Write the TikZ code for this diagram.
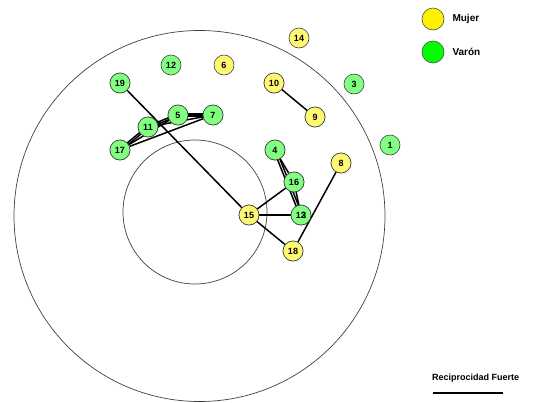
\documentclass[tikz,border=0pt]{standalone}
\usepackage{fontspec}
\setmainfont{Liberation Sans}
\begin{document}
\begin{tikzpicture}[x=1pt,y=-1pt,
  nd/.style={circle,draw=black!75,line width=0.6pt,minimum size=20pt,inner sep=0pt,font=\bfseries\fontsize{9}{9}\selectfont},
  fem/.style={nd,fill=yellow!55},
  mal/.style={nd,fill=green!50},
  lg/.style={circle,draw=black!70,line width=0.6pt,minimum size=22pt,inner sep=0pt},
  tie/.style={line width=1.5pt,black},
  ring/.style={draw=black!75,line width=0.7pt}]
\useasboundingbox (0,0) rectangle (544,402);
\draw[ring] (199.5,216) circle (185.5);
\draw[ring] (195,212) circle (72);
% nodes
\node[mal] (n19) at (120,83) {19};
\node[mal] (n12) at (171,65) {12};
\node[fem] (n6) at (224,65) {6};
\node[fem] (n14) at (299,38) {14};
\node[fem] (n10) at (274,83) {10};
\node[fem] (n9) at (315,117) {9};
\node[mal] (n3) at (354,84) {3};
\node[mal] (n1) at (390,145) {1};
\node[mal] (n5) at (178,115) {5};
\node[mal] (n7) at (213,115) {7};
\node[mal] (n11) at (148,127) {11};
\node[mal] (n17) at (120,150) {17};
\node[mal] (n4) at (275,150) {4};
\node[mal] (n16) at (294,182) {16};
\node[fem] (n8) at (341,163) {8};
\node[fem] (n15) at (249,215) {15};
\node[mal] (n13) at (301,215) {1\rlap{2}3};
\node[fem] (n18) at (293,251) {18};
% edges
\draw[tie] (n19) -- (n15);
\draw[tie] ([yshift=-1pt]n11.center) -- ([yshift=-1pt]n5.center);
\draw[tie] ([yshift=1pt]n11.center) -- ([yshift=1pt]n5.center);
\draw[tie] (n11) -- (n7);
\draw[tie] ([yshift=-1.2pt]n17.center) -- ([yshift=-1.2pt]n11.center);
\draw[tie] ([yshift=1.2pt]n17.center) -- ([yshift=1.2pt]n11.center);
\draw[tie] (n17) -- (n5);
\draw[tie] (n17) -- (n7);
\draw[tie] ([yshift=-1.2pt]n5.center) -- ([yshift=-1.2pt]n7.center);
\draw[tie] ([yshift=1.2pt]n5.center) -- ([yshift=1.2pt]n7.center);
\draw[tie] (n10) -- (n9);
\draw[tie] (n4) -- (n16);
\draw[tie] ([xshift=-1.3pt]n4.center) -- ([xshift=-1.3pt]n13.center);
\draw[tie] ([xshift=1.3pt]n4.center) -- ([xshift=1.3pt]n13.center);
\draw[tie] (n16) -- (n15);
\draw[tie] (n16) -- (n13);
\draw[tie] (n15) -- (n13);
\draw[tie] (n15) -- (n18);
\draw[tie] (n8) -- (n18);
% redraw nodes on top of the ties
\foreach \s/\p/\t in {mal/{120,83}/19, mal/{178,115}/5, mal/{213,115}/7, mal/{148,127}/11, mal/{120,150}/17, fem/{274,83}/10, fem/{315,117}/9, mal/{275,150}/4, mal/{294,182}/16, fem/{341,163}/8, fem/{249,215}/15, fem/{293,251}/18}
  \node[\s] at (\p) {\t};
\node[mal] at (301,215) {1\rlap{2}3};
% legend
\node[lg,fill=yellow] (lf) at (433,19) {};
\node[anchor=west,font=\bfseries\fontsize{10}{10}\selectfont] (tf) at (449,19) {Mujer};
\node[lg,fill=green] (lm) at (433,52) {};
\node[anchor=west,font=\bfseries\fontsize{10}{10}\selectfont] (tm) at (449,52) {Varón};
\node[anchor=west,font=\bfseries\fontsize{9}{9}\selectfont,inner sep=0pt] (rf) at (432,378) {Reciprocidad Fuerte};
\coordinate (la) at (433,393);
\coordinate (lb) at (503,393);
\draw[line width=1.5pt] (la) -- (lb);
\end{tikzpicture}
\end{document}
